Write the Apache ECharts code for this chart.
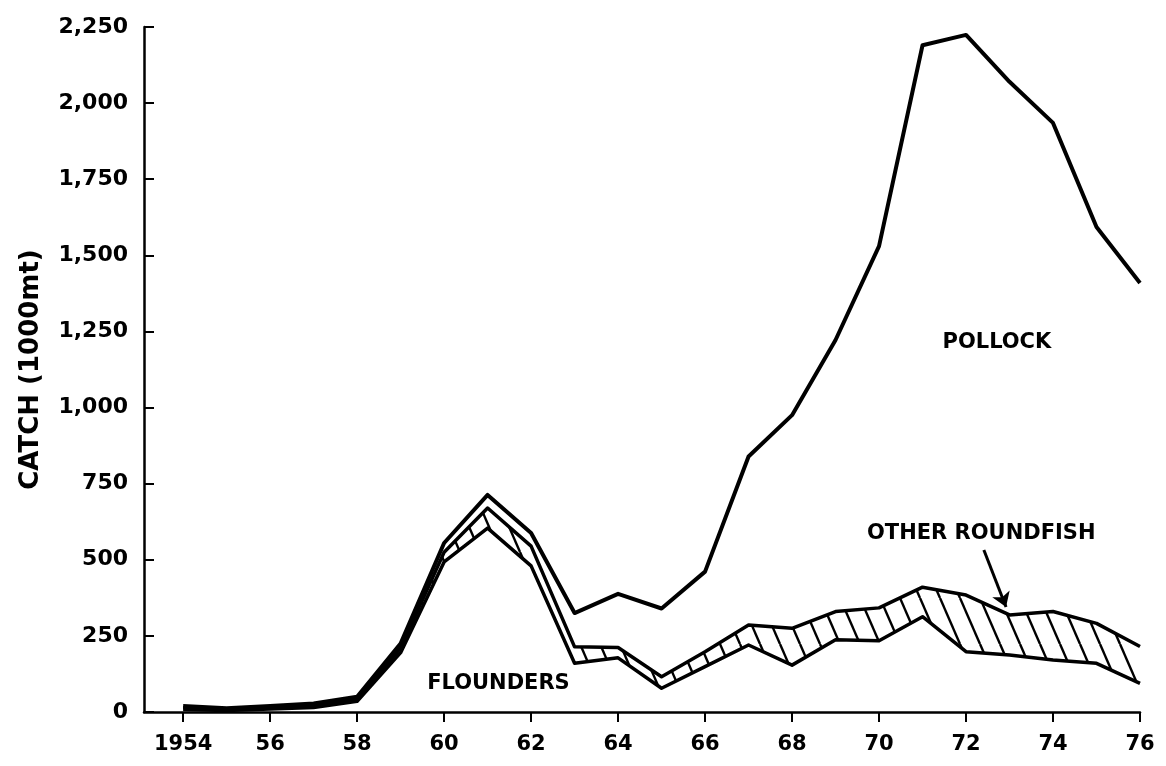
<!DOCTYPE html>
<html>
<head>
<meta charset="utf-8">
<script src="https://cdn.jsdelivr.net/npm/echarts@6/dist/echarts.min.js"></script>
<style>
html,body{margin:0;padding:0;background:#fff;}
#chart{width:1166px;height:766px;}
</style>
</head>
<body>
<div id="chart"></div>
<script>
// Years on the x axis
const years = [1954,1955,1956,1957,1958,1959,1960,1961,1962,1963,1964,1965,1966,1967,1968,1969,1970,1971,1972,1973,1974,1975,1976];
// Cumulative catch levels (1000 mt) as drawn (stacked curves)
const floundersLevel = [8,5,10,15,35,195,493,604,480,160,178,78,149,220,154,237,234,313,198,187,171,160,94];
const roundfishLevel = [14,10,15,22,42,210,525,670,545,214,212,116,198,286,275,330,342,410,384,319,330,291,215];
const pollockLevel   = [20,12,20,28,50,225,555,713,588,325,388,340,461,839,975,1222,1530,2190,2224,2070,1935,1593,1409];
// Tick labels
const xTicks = [1954,1956,1958,1960,1962,1964,1966,1968,1970,1972,1974,1976];
const yTicks = [0,250,500,750,1000,1250,1500,1750,2000,2250];

const FONT = 'DejaVu Sans';

// hatch pattern tile
const tile = document.createElement('canvas');
tile.width = 20; tile.height = 46;
const tctx = tile.getContext('2d');
tctx.fillStyle = '#fff';
tctx.fillRect(0,0,20,46);
tctx.strokeStyle = '#000';
tctx.lineWidth = 2.4;
[-20,0,20].forEach(function(dx){
  tctx.beginPath(); tctx.moveTo(dx,0); tctx.lineTo(dx+20,46); tctx.stroke();
});

function pairs(arr){ return years.map(function(y,i){ return [y, arr[i]]; }); }

const chart = echarts.init(document.getElementById('chart'), null, {renderer:'canvas'});
const lineStyle = {color:'#000', width:3.5, type:'solid', join:'round'};
const option = {
  backgroundColor:'#fff',
  animation:false,
  grid:{left:144, right:26, top:27, bottom:54},
  xAxis:{
    type:'value', min:1953.1, max:1976, z:10,
    axisLine:{show:true, onZero:false, lineStyle:{color:'#000', width:2.5}},
    axisTick:{show:true, inside:false, length:10, customValues:xTicks, lineStyle:{color:'#000', width:2}},
    axisLabel:{show:true, customValues:xTicks, margin:22, color:'#000', fontFamily:FONT, fontWeight:'bold', fontSize:21,
      formatter:function(v){ return v === 1954 ? '1954' : String(v).slice(2); }},
    splitLine:{show:false}
  },
  yAxis:{
    type:'value', min:0, max:2250, z:10,
    name:'CATCH (1000mt)', nameLocation:'middle', nameRotate:90, nameGap:100,
    nameTextStyle:{color:'#000', fontFamily:FONT, fontWeight:'bold', fontSize:26},
    axisLine:{show:true, lineStyle:{color:'#000', width:2.5}},
    axisTick:{show:true, inside:true, length:10, customValues:yTicks, lineStyle:{color:'#000', width:2}},
    axisLabel:{show:true, customValues:yTicks, margin:16, color:'#000', fontFamily:FONT, fontWeight:'bold', fontSize:22,
      formatter:function(v){ return v.toLocaleString('en-US'); }},
    splitLine:{show:false}
  },
  series:[
    {
      name:'Other roundfish', type:'line', data:pairs(roundfishLevel), symbol:'none',
      lineStyle:lineStyle,
      areaStyle:{color:{image:tile, repeat:'repeat'}, opacity:1},
      markLine:{
        silent:true, symbol:['none','arrow'], symbolSize:14,
        lineStyle:{color:'#000', width:3, type:'solid'}, label:{show:false},
        data:[[{coord:[1972.41,532]},{coord:[1972.92,345]}]]
      },
      markPoint:{
        silent:true, symbol:'circle', symbolSize:1, itemStyle:{color:'rgba(0,0,0,0)'},
        label:{show:true, position:'inside', color:'#000', fontFamily:FONT, fontWeight:'bold', fontSize:21},
        data:[{coord:[1972.35,585], value:'OTHER ROUNDFISH', label:{formatter:'OTHER ROUNDFISH'}}]
      }
    },
    {
      name:'Flounders', type:'line', data:pairs(floundersLevel), symbol:'none',
      lineStyle:lineStyle,
      areaStyle:{color:'#fff', opacity:1},
      markPoint:{
        silent:true, symbol:'circle', symbolSize:1, itemStyle:{color:'rgba(0,0,0,0)'},
        label:{show:true, position:'inside', color:'#000', fontFamily:FONT, fontWeight:'bold', fontSize:21},
        data:[{coord:[1961.25,92], value:'FLOUNDERS', label:{formatter:'FLOUNDERS'}}]
      }
    },
    {
      name:'Pollock', type:'line', data:pairs(pollockLevel), symbol:'none',
      lineStyle:{color:'#000', width:4, type:'solid', join:'round'},
      markPoint:{
        silent:true, symbol:'circle', symbolSize:1, itemStyle:{color:'rgba(0,0,0,0)'},
        label:{show:true, position:'inside', color:'#000', fontFamily:FONT, fontWeight:'bold', fontSize:21},
        data:[{coord:[1972.71,1212], value:'POLLOCK', label:{formatter:'POLLOCK'}}]
      }
    }
  ]
};
chart.setOption(option);
</script>
</body>
</html>
